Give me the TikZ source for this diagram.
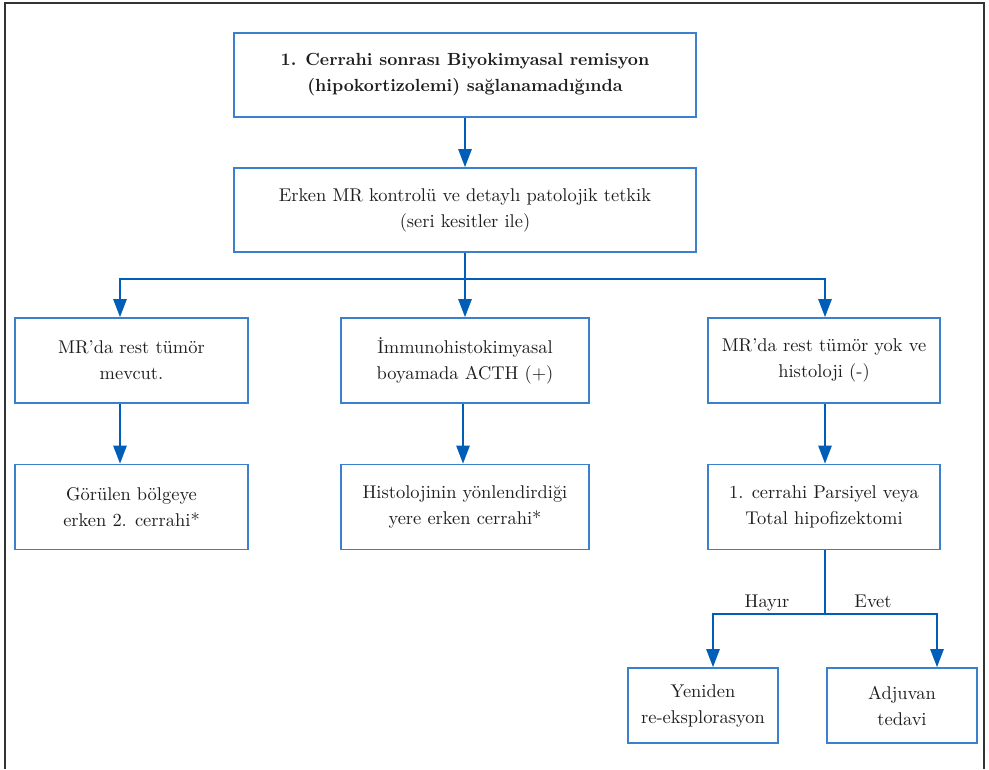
\documentclass[tikz,border=0pt]{standalone}
\usepackage{fontspec}
\usetikzlibrary{arrows.meta}
\definecolor{okmavi}{RGB}{0,94,184}
\definecolor{kutumavi}{RGB}{58,128,205}
\definecolor{yazi}{RGB}{30,30,30}
\begin{document}
\begin{tikzpicture}[x=0.02cm,y=-0.02cm,font=\fontsize{10.5}{14.8}\selectfont,
        kutu/.style={draw=kutumavi,line width=0.9pt,align=center,text=yazi,inner sep=0pt},
        genis/.style={kutu,minimum width=9.24cm,minimum height=1.68cm},
        orta/.style={kutu,minimum width=4.7cm,minimum height=1.7cm},
        kucuk/.style={kutu,minimum width=3cm,minimum height=1.5cm},
        ok/.style={draw=okmavi,line width=1.4pt,-{Triangle[length=3.6mm,width=2.6mm]}},
        cizgi/.style={draw=okmavi,line width=1.4pt},
        etiket/.style={anchor=base,text=yazi,inner sep=0pt}]
    \useasboundingbox (0,0) rectangle (989,769);
    % dis cerceve
    \draw[line width=1pt,black!80] (5,769) -- (5,3) -- (984,3) -- (984,769);
    % kutular
    \node[genis,font=\fontsize{10}{14.8}\selectfont\bfseries] (bas) at (465,75)
        {1. Cerrahi sonrası Biyokimyasal remisyon\\(hipokortizolemi) sağlanamadığında};
    \node[genis] (mr) at (465,210)
        {Erken MR kontrolü ve detaylı patolojik tetkik\\(seri kesitler ile)};
    \node[orta,minimum width=4.66cm] (sol1) at (131.5,360.5) {MR’da rest tümör\\mevcut.};
    \node[orta,minimum width=4.66cm] (sol2) at (131.5,507) {Görülen bölgeye\\erken 2. cerrahi*};
    \node[orta,minimum width=4.96cm] (orta1) at (465,360.5) {İmmunohistokimyasal\\boyamada ACTH (+)};
    \node[orta,minimum width=4.96cm] (orta2) at (465,507) {Histolojinin yönlendirdiği\\yere erken cerrahi*};
    \node[orta,minimum width=4.64cm] (sag1) at (824,360.5) {MR’da rest tümör yok ve\\histoloji (-)};
    \node[orta,minimum width=4.64cm] (sag2) at (824,507) {1. cerrahi Parsiyel veya\\Total hipofizektomi};
    \node[kucuk] (hayir) at (703,705.5) {Yeniden\\re-eksplorasyon};
    \node[kucuk] (evet) at (902,705.5) {Adjuvan\\tedavi};
    % ara noktalar
    \coordinate (dal) at (465,279);
    \coordinate (solk) at (120,279);
    \coordinate (sagk) at (825,279);
    \coordinate (ayir) at (825,614);
    \coordinate (hk) at (713,614);
    \coordinate (ek) at (937,614);
    % oklar
    \draw[ok] (bas) -- (mr);
    \draw[cizgi] (mr.south) -- (dal);
    \draw[ok] (dal) -- (solk) -- (sol1.north -| solk);
    \draw[ok] (dal) -- (orta1);
    \draw[ok] (dal) -- (sagk) -- (sag1.north -| sagk);
    \draw[ok] (sol1.south -| solk) -- (sol2.north -| solk);
    \draw[ok] (orta1.south -| 463,0) -- (orta2.north -| 463,0);
    \draw[ok] (sag1.south -| sagk) -- (sag2.north -| sagk);
    \draw[cizgi] (sag2.south -| ayir) -- (ayir);
    \draw[ok] (ayir) -- (hk) -- (hayir.north -| hk);
    \draw[ok] (ayir) -- (ek) -- (evet.north -| ek);
    \node[etiket] (hayirl) at (767,607) {Hayır};
    \node[etiket] (evetl) at (873,607) {Evet};
\end{tikzpicture}
\end{document}
